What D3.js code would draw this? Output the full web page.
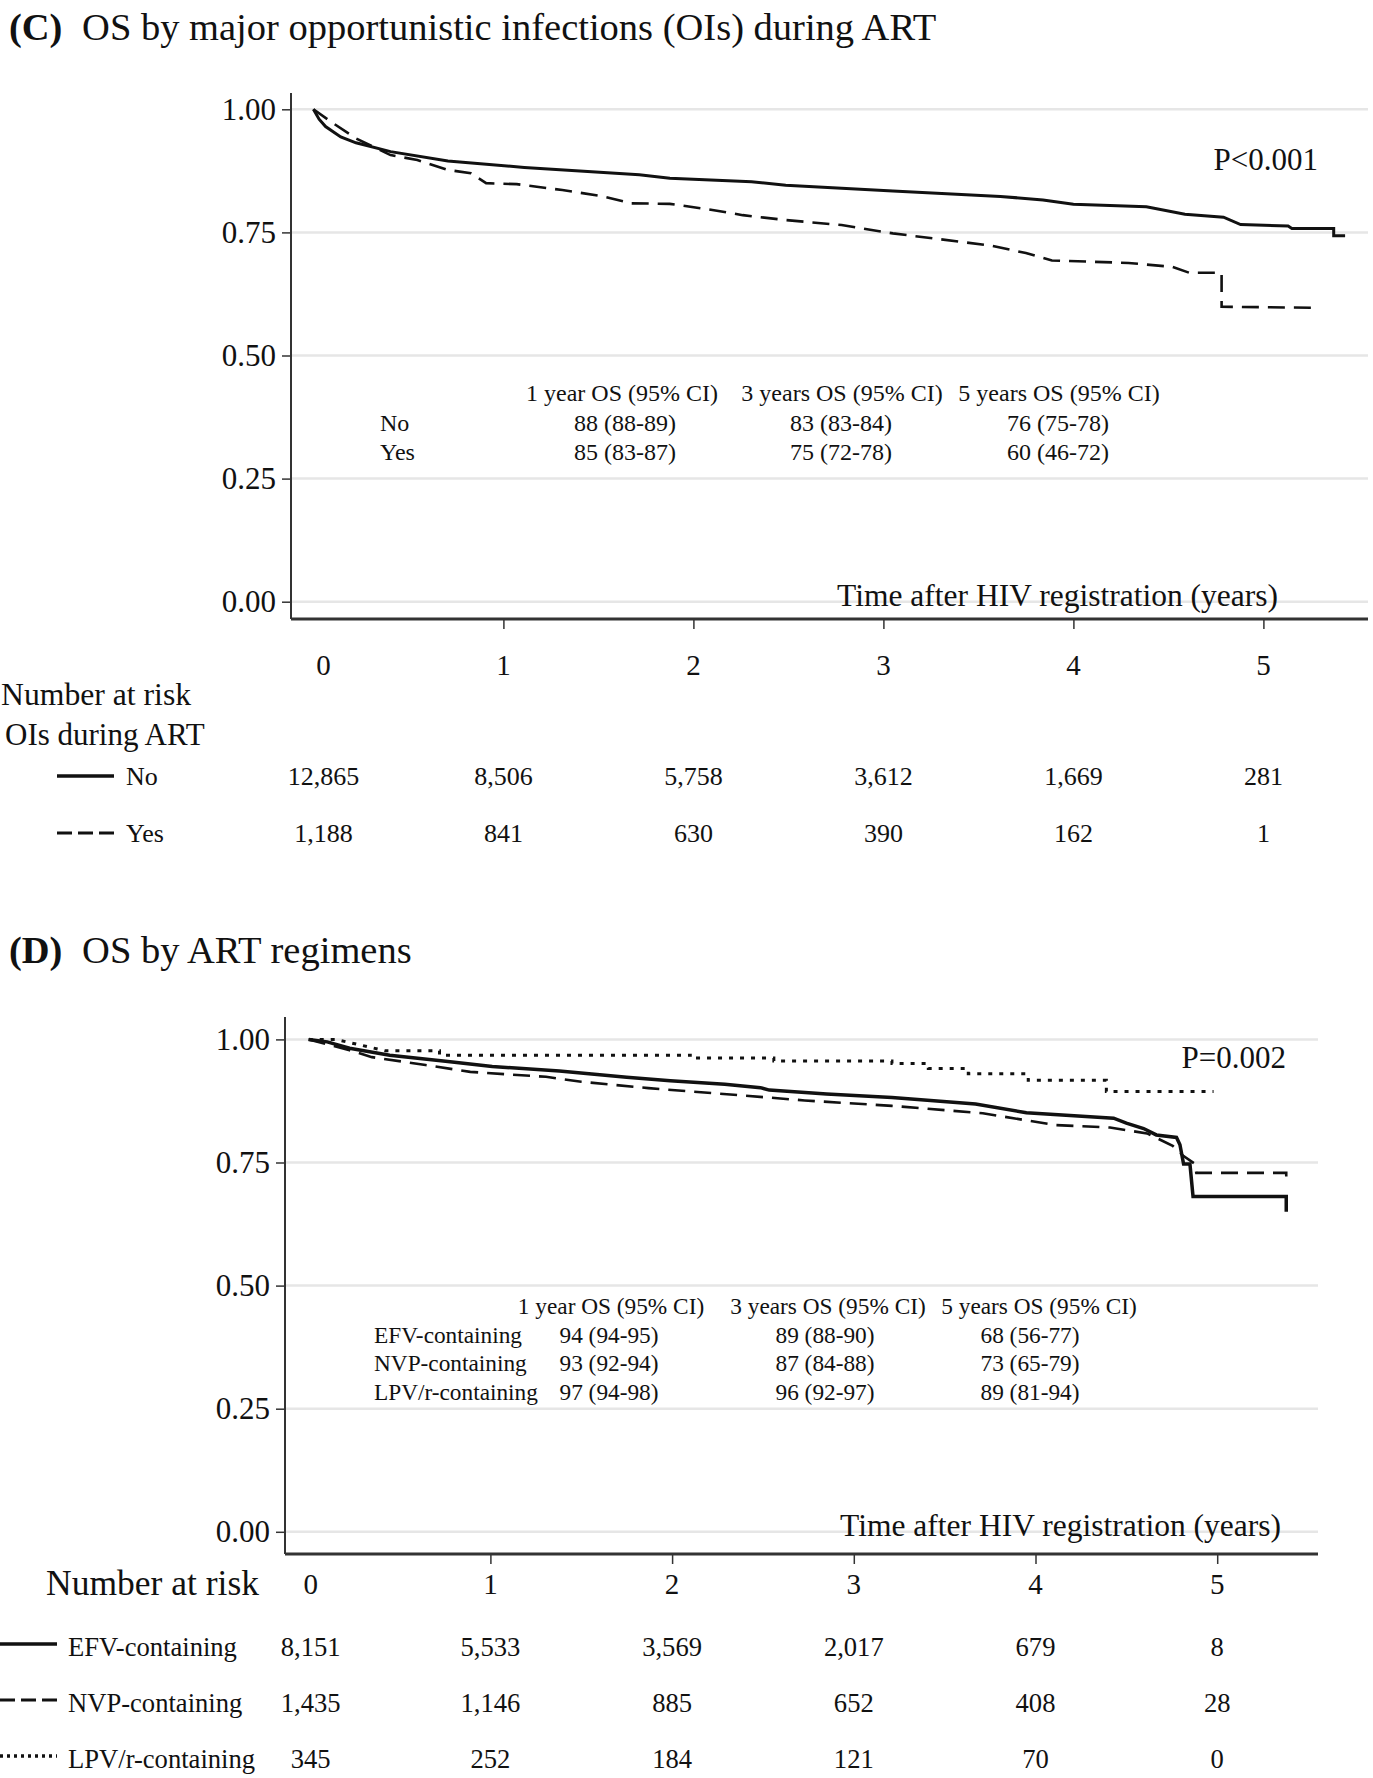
<!DOCTYPE html>
<html><head><meta charset="utf-8">
<script src="https://cdn.jsdelivr.net/npm/d3@7"></script>
<style>html,body{margin:0;padding:0;background:#fff;}svg{display:block;}</style>
</head><body>
<script>
// ---------- DATA ----------
const timeTicks = [0, 1, 2, 3, 4, 5];
const yTicks = [0, 0.25, 0.5, 0.75, 1];
const osHeaders = ["1 year OS (95% CI)", "3 years OS (95% CI)", "5 years OS (95% CI)"];

// Panel C
const cTitleTag = "(C)";
const cTitle = "OS by major opportunistic infections (OIs) during ART";
const cGroups = ["No", "Yes"];
const cCurveNo = [[0,1],[0.03,0.98],[0.064,0.965],[0.144,0.944],[0.224,0.932],[0.406,0.914],[0.708,0.895],[1.11,0.882],[1.715,0.867],[1.876,0.86],[2.306,0.853],[2.486,0.846],[3.05,0.834],[3.616,0.823],[3.84,0.816],[4.0,0.807],[4.384,0.802],[4.587,0.787],[4.79,0.781],[4.88,0.766],[5.13,0.763],[5.15,0.758],[5.37,0.758],[5.37,0.743],[5.43,0.743]];
const cCurveYes = [[0,1],[0.103,0.972],[0.224,0.941],[0.406,0.907],[0.547,0.897],[0.708,0.877],[0.829,0.87],[0.909,0.85],[1.07,0.848],[1.31,0.836],[1.513,0.824],[1.675,0.809],[1.876,0.808],[2.077,0.797],[2.26,0.785],[2.486,0.775],[2.78,0.765],[3.05,0.748],[3.3,0.736],[3.57,0.723],[3.75,0.708],[3.887,0.693],[4.29,0.688],[4.52,0.68],[4.61,0.668],[4.78,0.668],[4.78,0.599],[5.25,0.597]];
const cOsNo = ["88 (88-89)", "83 (83-84)", "76 (75-78)"];
const cOsYes = ["85 (83-87)", "75 (72-78)", "60 (46-72)"];
const cRiskNo = ["12,865", "8,506", "5,758", "3,612", "1,669", "281"];
const cRiskYes = ["1,188", "841", "630", "390", "162", "1"];
const cPValue = "P<0.001";

// Panel D
const dTitleTag = "(D)";
const dTitle = "OS by ART regimens";
const dGroups = ["EFV-containing", "NVP-containing", "LPV/r-containing"];
const dCurveEFV = [[0,1],[0.102,0.995],[0.225,0.982],[0.446,0.968],[0.766,0.955],[1.01,0.945],[1.38,0.936],[1.75,0.923],[1.99,0.916],[2.29,0.909],[2.486,0.902],[2.535,0.897],[2.85,0.889],[3.21,0.882],[3.67,0.869],[3.95,0.851],[4.43,0.84],[4.5,0.83],[4.595,0.819],[4.665,0.806],[4.776,0.801],[4.795,0.786],[4.815,0.747],[4.85,0.747],[4.867,0.681],[5.38,0.681],[5.38,0.65]];
const dCurveNVP = [[0,1],[0.225,0.978],[0.348,0.964],[0.643,0.948],[0.889,0.934],[1.306,0.924],[1.5,0.914],[1.87,0.901],[2.36,0.887],[2.73,0.876],[3.21,0.865],[3.71,0.85],[4.11,0.826],[4.41,0.821],[4.614,0.809],[4.755,0.784],[4.815,0.763],[4.875,0.748],[4.885,0.729],[5.38,0.729],[5.38,0.709]];
const dCurveLPV = [[0,1],[0.15,1],[0.42,0.977],[0.72,0.977],[0.72,0.968],[2.1,0.968],[2.1,0.962],[2.56,0.962],[2.56,0.956],[3.21,0.956],[3.21,0.951],[3.41,0.951],[3.41,0.941],[3.63,0.941],[3.63,0.93],[3.96,0.93],[3.96,0.917],[4.39,0.917],[4.39,0.894],[4.98,0.894]];
const dOsEFV = ["94 (94-95)", "89 (88-90)", "68 (56-77)"];
const dOsNVP = ["93 (92-94)", "87 (84-88)", "73 (65-79)"];
const dOsLPV = ["97 (94-98)", "96 (92-97)", "89 (81-94)"];
const dRiskEFV = ["8,151", "5,533", "3,569", "2,017", "679", "8"];
const dRiskNVP = ["1,435", "1,146", "885", "652", "408", "28"];
const dRiskLPV = ["345", "252", "184", "121", "70", "0"];
const dPValue = "P=0.002";

const xAxisTitle = "Time after HIV registration (years)";
const riskTitle = "Number at risk";
const cRiskSub = "OIs during ART";

// ---------- DRAWING ----------
const W = 1373, H = 1778;
const FONT = "'Liberation Serif','Times New Roman',Times,serif";
const INK = "#111";
const svg = d3.select("body").append("svg").attr("width", W).attr("height", H)
  .style("font-family", FONT);

function txt(g, s, x, y, size, anchor, weight) {
  return g.append("text").attr("x", x).attr("y", y).attr("font-size", size)
    .attr("text-anchor", anchor || "start").attr("fill", INK)
    .attr("font-weight", weight || "normal").text(s);
}

const styles = {
  solid: {w: 3, dash: null, leg: null},
  dashed: {w: 2.6, dash: "17,9", leg: "15,6"},
  dotted: {w: 3, dash: "4,7", leg: "3,4"}
};

function panel(cfg) {
  const g = svg.append("g");
  const x = d3.scaleLinear().domain([0, 5]).range(cfg.xr);
  const y = d3.scaleLinear().domain([0, 1]).range(cfg.yr);

  // Title
  const t = g.append("text").attr("x", 9).attr("y", cfg.titleY).attr("font-size", cfg.titleSize).attr("fill", INK);
  t.append("tspan").attr("font-weight", "bold").text(cfg.tag);
  t.append("tspan").attr("dx", 10).text(" " + cfg.title);

  // Grid
  g.append("g").selectAll("line").data(yTicks).join("line")
    .attr("x1", cfg.axisX).attr("x2", cfg.gridEnd)
    .attr("y1", d => y(d)).attr("y2", d => y(d))
    .attr("stroke", "#e6e6e6").attr("stroke-width", 2.5);

  // Y axis
  const ya = g.append("g").attr("transform", `translate(${cfg.axisX},0)`)
    .call(d3.axisLeft(y).tickValues(yTicks).tickFormat(d3.format(".2f")).tickSize(9).tickPadding(6));
  ya.select(".domain").remove();
  ya.selectAll(".tick line").attr("stroke", "#333").attr("stroke-width", 1.5);
  ya.selectAll(".tick text").attr("font-family", FONT).attr("font-size", 31).attr("fill", INK);
  g.append("line").attr("x1", cfg.axisX).attr("x2", cfg.axisX)
    .attr("y1", cfg.axisTop).attr("y2", cfg.axisBottomY)
    .attr("stroke", "#333").attr("stroke-width", 2);

  // X axis
  const xa = g.append("g").attr("transform", `translate(0,${cfg.axisBottomY})`)
    .call(d3.axisBottom(x).tickValues(timeTicks.filter(d => d > 0)).tickFormat("").tickSize(10));
  xa.select(".domain").remove();
  xa.selectAll(".tick line").attr("stroke", "#333").attr("stroke-width", 1.5);
  g.append("line").attr("x1", cfg.axisX).attr("x2", cfg.gridEnd)
    .attr("y1", cfg.axisBottomY).attr("y2", cfg.axisBottomY)
    .attr("stroke", "#333").attr("stroke-width", 3);

  // Curves
  const line = d3.line().x(d => x(d[0])).y(d => y(d[1])).curve(d3.curveLinear);
  cfg.curves.forEach(c => {
    const st = styles[c.style];
    g.append("path").datum(c.data).attr("d", line)
      .attr("fill", "none").attr("stroke", INK).attr("stroke-width", st.w + (c.extra || 0))
      .attr("stroke-dasharray", st.dash).attr("stroke-linejoin", "miter");
  });

  // P value
  txt(g, cfg.p, cfg.pX, cfg.pY, 31, "end");

  // Time label
  txt(g, xAxisTitle, cfg.timeX, cfg.timeY, 31.5, "end");

  // OS table
  osHeaders.forEach((h, i) => txt(g, h, cfg.hdrX[i], cfg.hdrY, cfg.tblSize, "middle"));
  cfg.osRows.forEach((r, j) => {
    const yy = cfg.rowY0 + j * cfg.rowStep;
    txt(g, r.label, cfg.rowLabelX, yy, cfg.tblSize, "start");
    r.vals.forEach((v, i) => txt(g, v, cfg.valX[i], yy, cfg.tblSize, "middle"));
  });

  // Column (time) labels under the axis
  timeTicks.forEach(tk => txt(g, String(tk), x(tk) + (tk === 0 ? cfg.zeroNudge : 0), cfg.colLabelY, 29, "middle"));

  // Number at risk
  txt(g, riskTitle, cfg.riskTitleX, cfg.riskTitleY, cfg.riskTitleSize, "start");
  if (cfg.riskSub) txt(g, cfg.riskSub, 5, cfg.riskSubY, 31, "start");
  cfg.riskRows.forEach((r, j) => {
    const yy = cfg.riskY0 + j * cfg.riskStep;
    const st = styles[r.style];
    g.append("line").attr("x1", cfg.legX0).attr("x2", cfg.legX1)
      .attr("y1", yy - cfg.legRaise).attr("y2", yy - cfg.legRaise)
      .attr("stroke", INK).attr("stroke-width", st.w + 0.5).attr("stroke-dasharray", st.leg);
    txt(g, r.label, cfg.legTextX, yy, cfg.riskSize, "start");
    r.vals.forEach((v, i) => txt(g, v, x(timeTicks[i]) + (i === 0 ? cfg.zeroNudge : 0), yy, cfg.riskSize, "middle"));
  });
}

panel({
  tag: cTitleTag, title: cTitle, titleY: 40, titleSize: 38.5,
  xr: [313.4, 1263.4], yr: [601.7, 109.3],
  axisX: 291, axisTop: 93, axisBottomY: 619, gridEnd: 1368,
  curves: [{data: cCurveNo, style: "solid"}, {data: cCurveYes, style: "dashed"}],
  p: cPValue, pX: 1318, pY: 170,
  timeX: 1278, timeY: 606,
  hdrX: [622, 842, 1059], hdrY: 401, tblSize: 24,
  osRows: [{label: cGroups[0], vals: cOsNo}, {label: cGroups[1], vals: cOsYes}],
  rowY0: 431, rowStep: 29, rowLabelX: 380, valX: [625, 841, 1058],
  colLabelY: 675, zeroNudge: 10,
  riskTitleX: 1, riskTitleY: 705, riskTitleSize: 31.7,
  riskSub: cRiskSub, riskSubY: 745,
  riskRows: [{label: cGroups[0], vals: cRiskNo, style: "solid"}, {label: cGroups[1], vals: cRiskYes, style: "dashed"}],
  riskY0: 785, riskStep: 57, riskSize: 26,
  legX0: 57, legX1: 114, legTextX: 126, legRaise: 9
});

panel({
  tag: dTitleTag, title: dTitle, titleY: 963, titleSize: 38.5,
  xr: [308.7, 1217.2], yr: [1531.8, 1039.4],
  axisX: 285, axisTop: 1017, axisBottomY: 1554, gridEnd: 1318,
  curves: [{data: dCurveEFV, style: "solid", extra: 0.5}, {data: dCurveNVP, style: "dashed"}, {data: dCurveLPV, style: "dotted"}],
  p: dPValue, pX: 1286, pY: 1068,
  timeX: 1281, timeY: 1536,
  hdrX: [611, 828, 1039], hdrY: 1314, tblSize: 23.3,
  osRows: [{label: dGroups[0], vals: dOsEFV}, {label: dGroups[1], vals: dOsNVP}, {label: dGroups[2], vals: dOsLPV}],
  rowY0: 1343, rowStep: 28.4, rowLabelX: 374, valX: [609, 825, 1030],
  colLabelY: 1594, zeroNudge: 2,
  riskTitleX: 46, riskTitleY: 1595, riskTitleSize: 35.5,
  riskSub: null,
  riskRows: [{label: dGroups[0], vals: dRiskEFV, style: "solid"}, {label: dGroups[1], vals: dRiskNVP, style: "dashed"}, {label: dGroups[2], vals: dRiskLPV, style: "dotted"}],
  riskY0: 1656, riskStep: 56, riskSize: 26.6,
  legX0: 0, legX1: 57, legTextX: 68, legRaise: 12
});
</script>
</body></html>
